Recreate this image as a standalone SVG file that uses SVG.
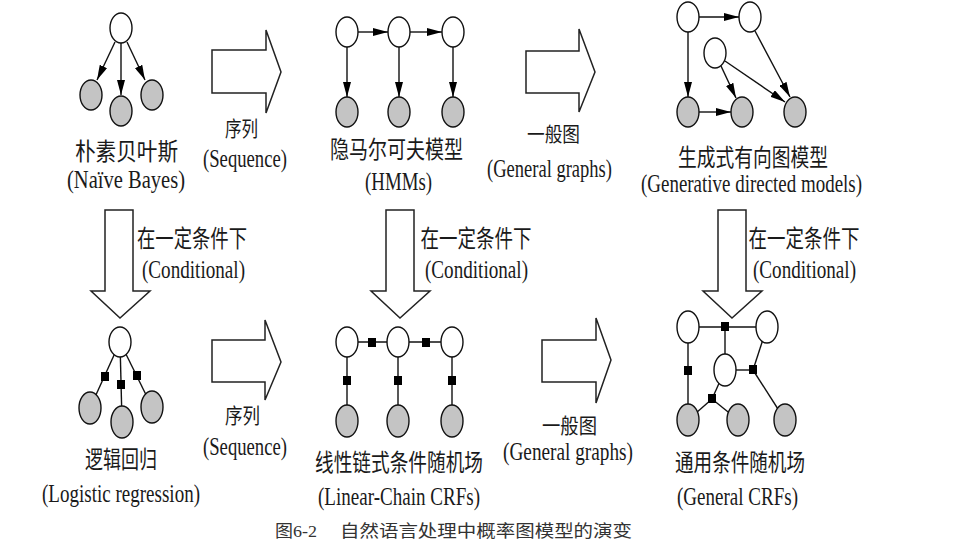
<svg xmlns="http://www.w3.org/2000/svg" width="971" height="548" viewBox="0 0 971 548">
<defs>
<style>
.o{fill:#fff;stroke:#111;stroke-width:1.4}
.g{fill:#c4c4c4;stroke:#111;stroke-width:1.4}
.e{stroke:#111;stroke-width:1.4;fill:none}
.a{stroke:#111;stroke-width:1.4;fill:none;marker-end:url(#ah)}
.f{fill:#000}
.big{fill:#fff;stroke:#222;stroke-width:1.5;stroke-linejoin:miter}
.t{font-family:"Liberation Serif","Noto Sans CJK SC",serif;fill:#1a1a1a;text-anchor:middle}
.cn{font-size:23.5px}
.en{font-size:26px}
.cap{font-family:"Liberation Serif","Noto Sans CJK SC",serif;font-size:17px;fill:#333}
</style>
<marker id="ah" viewBox="0 0 15 8" refX="15" refY="4" markerWidth="15" markerHeight="8" markerUnits="userSpaceOnUse" orient="auto">
<path d="M0,0 L15,4 L0,8 Z" fill="#000"/>
</marker>
</defs>
<rect width="971" height="548" fill="#fff"/>

<!-- Block arrows -->
<g id="transitions">
<path class="big" d="M212,50 H266 V30 L281,72 L266,113 V93 H212 Z"/>
<path class="big" d="M526,51 H579 V29 L595,72 L579,112 V93 H526 Z"/>
<path class="big" d="M212,340 H265 V320 L281,362 L265,400 V382 H212 Z"/>
<path class="big" d="M542,340 H596 V318 L611,360 L596,403 V382 H542 Z"/>
<path class="big" d="M105,210 V291 H91 L120,318 L150,291 H133 V210 Z"/>
<path class="big" d="M386,210 V291 H371 L400,318 L430,291 H414 V210 Z"/>
<path class="big" d="M718,210 V291 H703 L732,318 L762,291 H746 V210 Z"/>
</g>

<!-- Naive Bayes -->
<g id="naive-bayes">
<g id="nb-connectors">
<line class="a" x1="115" y1="42" x2="97" y2="80"/>
<line class="a" x1="121" y1="43" x2="121" y2="95"/>
<line class="a" x1="127" y1="42" x2="145" y2="80"/>
</g>
<g id="nb-y"><ellipse class="o" cx="121" cy="28" rx="11" ry="15"/></g>
<g id="nb-x1"><ellipse class="g" cx="91" cy="95" rx="11" ry="15"/></g>
<g id="nb-x2"><ellipse class="g" cx="121" cy="111" rx="11" ry="15"/></g>
<g id="nb-x3"><ellipse class="g" cx="152" cy="95" rx="11" ry="15"/></g>
</g>

<!-- HMM -->
<g id="hmm">
<g id="hmm-connectors">
<line class="a" x1="358" y1="32" x2="388" y2="32"/>
<line class="a" x1="410" y1="32" x2="442" y2="32"/>
<line class="a" x1="347" y1="47" x2="347" y2="97"/>
<line class="a" x1="399" y1="47" x2="399" y2="97"/>
<line class="a" x1="453" y1="47" x2="453" y2="97"/>
</g>
<g id="hmm-y1"><ellipse class="o" cx="347" cy="32" rx="11" ry="15"/></g>
<g id="hmm-y2"><ellipse class="o" cx="399" cy="32" rx="11" ry="15"/></g>
<g id="hmm-y3"><ellipse class="o" cx="453" cy="32" rx="11" ry="15"/></g>
<g id="hmm-x1"><ellipse class="g" cx="347" cy="112" rx="11" ry="15"/></g>
<g id="hmm-x2"><ellipse class="g" cx="399" cy="112" rx="11" ry="15"/></g>
<g id="hmm-x3"><ellipse class="g" cx="453" cy="112" rx="11" ry="15"/></g>
</g>

<!-- Generative directed models -->
<g id="gdm">
<g id="gdm-connectors">
<line class="a" x1="699" y1="17" x2="739" y2="17"/>
<line class="a" x1="688" y1="32" x2="688" y2="97"/>
<line class="a" x1="699" y1="112" x2="731" y2="112"/>
<line class="a" x1="721" y1="66" x2="736" y2="98"/>
<line class="a" x1="725" y1="61" x2="785" y2="102"/>
<line class="a" x1="755" y1="31" x2="790" y2="97"/>
</g>
<g id="gdm-a"><ellipse class="o" cx="688" cy="17" rx="11" ry="15"/></g>
<g id="gdm-b"><ellipse class="o" cx="750" cy="17" rx="11" ry="15"/></g>
<g id="gdm-c"><ellipse class="o" cx="715" cy="53" rx="11" ry="15"/></g>
<g id="gdm-d"><ellipse class="g" cx="688" cy="112" rx="11" ry="15"/></g>
<g id="gdm-e"><ellipse class="g" cx="742" cy="112" rx="11" ry="15"/></g>
<g id="gdm-f"><ellipse class="g" cx="795" cy="112" rx="11" ry="15"/></g>
</g>

<!-- Logistic regression -->
<g id="logreg">
<g id="lr-connectors">
<line class="e" x1="120" y1="342" x2="90" y2="408"/>
<line class="e" x1="120" y1="342" x2="122" y2="422"/>
<line class="e" x1="120" y1="342" x2="152" y2="407"/>
<rect class="f" x="101" y="372" width="8" height="9"/>
<rect class="f" x="117" y="380" width="8" height="9"/>
<rect class="f" x="133" y="371" width="8" height="9"/>
</g>
<g id="lr-y"><ellipse class="o" cx="120" cy="342" rx="11" ry="15"/></g>
<g id="lr-x1"><ellipse class="g" cx="90" cy="408" rx="11" ry="16"/></g>
<g id="lr-x2"><ellipse class="g" cx="122" cy="422" rx="11" ry="16"/></g>
<g id="lr-x3"><ellipse class="g" cx="152" cy="407" rx="11" ry="16"/></g>
</g>

<!-- Linear-chain CRF -->
<g id="lccrf">
<g id="lc-connectors">
<line class="e" x1="347" y1="342" x2="452" y2="342"/>
<line class="e" x1="347" y1="342" x2="347" y2="421"/>
<line class="e" x1="398" y1="342" x2="398" y2="421"/>
<line class="e" x1="452" y1="342" x2="452" y2="421"/>
<rect class="f" x="368" y="338" width="8" height="9"/>
<rect class="f" x="422" y="338" width="8" height="9"/>
<rect class="f" x="343" y="376" width="8" height="9"/>
<rect class="f" x="394" y="376" width="8" height="9"/>
<rect class="f" x="448" y="376" width="8" height="9"/>
</g>
<g id="lc-y1"><ellipse class="o" cx="347" cy="342" rx="11" ry="15"/></g>
<g id="lc-y2"><ellipse class="o" cx="398" cy="342" rx="11" ry="15"/></g>
<g id="lc-y3"><ellipse class="o" cx="452" cy="342" rx="11" ry="15"/></g>
<g id="lc-x1"><ellipse class="g" cx="347" cy="421" rx="11" ry="16"/></g>
<g id="lc-x2"><ellipse class="g" cx="398" cy="421" rx="11" ry="16"/></g>
<g id="lc-x3"><ellipse class="g" cx="452" cy="421" rx="11" ry="16"/></g>
</g>

<!-- General CRF -->
<g id="gcrf">
<g id="gc-connectors">
<line class="e" x1="688" y1="327" x2="767" y2="327"/>
<line class="e" x1="725" y1="327" x2="725" y2="370"/>
<line class="e" x1="688" y1="327" x2="688" y2="420"/>
<line class="e" x1="725" y1="370" x2="753" y2="370"/>
<line class="e" x1="753" y1="370" x2="767" y2="327"/>
<line class="e" x1="753" y1="370" x2="785" y2="420"/>
<line class="e" x1="725" y1="370" x2="712" y2="399"/>
<line class="e" x1="712" y1="399" x2="688" y2="420"/>
<line class="e" x1="712" y1="399" x2="738" y2="420"/>
<rect class="f" x="721" y="322" width="8" height="9"/>
<rect class="f" x="684" y="366" width="8" height="9"/>
<rect class="f" x="749" y="365" width="8" height="9"/>
<rect class="f" x="708" y="394" width="8" height="9"/>
</g>
<g id="gc-a"><ellipse class="o" cx="688" cy="327" rx="11" ry="16"/></g>
<g id="gc-b"><ellipse class="o" cx="767" cy="327" rx="11" ry="16"/></g>
<g id="gc-c"><ellipse class="o" cx="725" cy="370" rx="11" ry="16"/></g>
<g id="gc-d"><ellipse class="g" cx="688" cy="420" rx="11" ry="16"/></g>
<g id="gc-e"><ellipse class="g" cx="738" cy="420" rx="11" ry="16"/></g>
<g id="gc-f"><ellipse class="g" cx="785" cy="420" rx="11" ry="16"/></g>
</g>

<!-- Labels -->
<g id="labels">
<text class="t cn" x="126.5" y="160" textLength="103" lengthAdjust="spacingAndGlyphs">朴素贝叶斯</text>
<text class="t en" x="126" y="188" textLength="118" lengthAdjust="spacingAndGlyphs">(Naïve Bayes)</text>
<text class="t cn" x="241.5" y="136" textLength="33" lengthAdjust="spacingAndGlyphs" style="font-size:21px">序列</text>
<text class="t en" x="245" y="167" textLength="84" lengthAdjust="spacingAndGlyphs">(Sequence)</text>
<text class="t cn" x="396.5" y="158" textLength="133" lengthAdjust="spacingAndGlyphs">隐马尔可夫模型</text>
<text class="t en" x="398.5" y="190" textLength="67" lengthAdjust="spacingAndGlyphs">(HMMs)</text>
<text class="t cn" x="553.5" y="142" textLength="53" lengthAdjust="spacingAndGlyphs" style="font-size:20px">一般图</text>
<text class="t en" x="549.5" y="177" textLength="125" lengthAdjust="spacingAndGlyphs">(General graphs)</text>
<text class="t cn" x="753" y="166" textLength="150" lengthAdjust="spacingAndGlyphs">生成式有向图模型</text>
<text class="t en" x="751.5" y="192" textLength="221" lengthAdjust="spacingAndGlyphs">(Generative directed models)</text>

<text class="t cn" x="192" y="247" textLength="110" lengthAdjust="spacingAndGlyphs">在一定条件下</text>
<text class="t en" x="193.5" y="278" textLength="103" lengthAdjust="spacingAndGlyphs">(Conditional)</text>
<text class="t cn" x="476" y="247" textLength="111" lengthAdjust="spacingAndGlyphs">在一定条件下</text>
<text class="t en" x="476.5" y="278" textLength="103" lengthAdjust="spacingAndGlyphs">(Conditional)</text>
<text class="t cn" x="804" y="247" textLength="111" lengthAdjust="spacingAndGlyphs">在一定条件下</text>
<text class="t en" x="804.5" y="278" textLength="103" lengthAdjust="spacingAndGlyphs">(Conditional)</text>

<text class="t cn" x="121" y="468" textLength="72" lengthAdjust="spacingAndGlyphs">逻辑回归</text>
<text class="t en" x="121" y="502" textLength="158" lengthAdjust="spacingAndGlyphs">(Logistic regression)</text>
<text class="t cn" x="242.5" y="423" textLength="35" lengthAdjust="spacingAndGlyphs" style="font-size:21px">序列</text>
<text class="t en" x="245" y="455" textLength="84" lengthAdjust="spacingAndGlyphs">(Sequence)</text>
<text class="t cn" x="399" y="471" textLength="168" lengthAdjust="spacingAndGlyphs">线性链式条件随机场</text>
<text class="t en" x="399" y="505" textLength="162" lengthAdjust="spacingAndGlyphs">(Linear-Chain CRFs)</text>
<text class="t cn" x="569.5" y="433" textLength="55" lengthAdjust="spacingAndGlyphs" style="font-size:21px">一般图</text>
<text class="t en" x="568" y="460" textLength="130" lengthAdjust="spacingAndGlyphs">(General graphs)</text>
<text class="t cn" x="740" y="471" textLength="130" lengthAdjust="spacingAndGlyphs">通用条件随机场</text>
<text class="t en" x="737.5" y="505" textLength="121" lengthAdjust="spacingAndGlyphs">(General CRFs)</text>

<text class="cap" x="275" y="537" textLength="42" lengthAdjust="spacingAndGlyphs">图6-2</text>
<text class="cap" x="340" y="537" textLength="292" lengthAdjust="spacingAndGlyphs">自然语言处理中概率图模型的演变</text>
</g>
</svg>
